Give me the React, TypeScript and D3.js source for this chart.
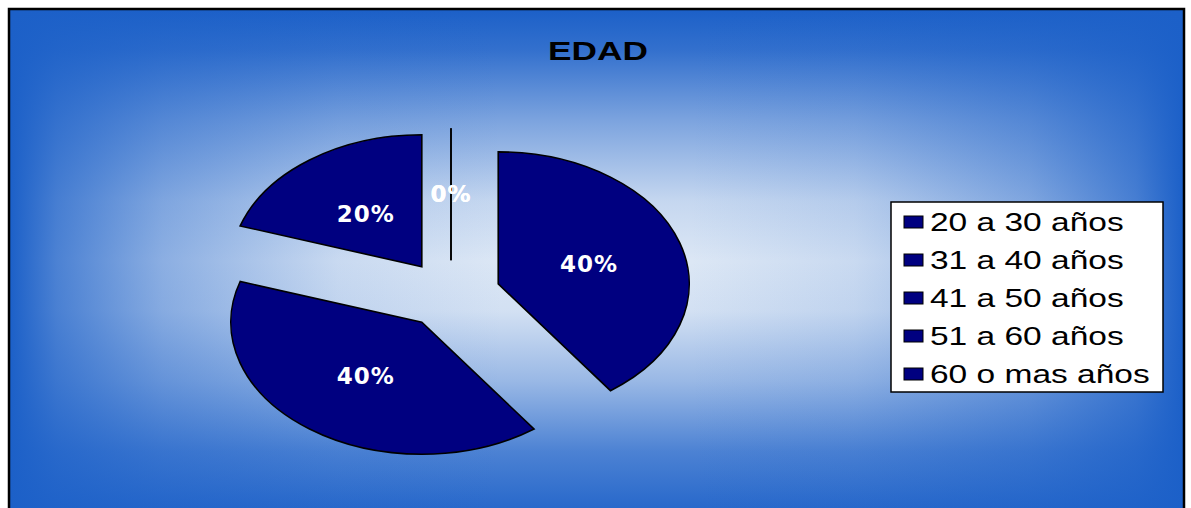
import React, { useEffect, useRef } from 'react';
import * as d3 from 'd3';

const chartTitle = 'EDAD';
const categories = [
  '20 a 30 años',
  '31 a 40 años',
  '41 a 50 años',
  '51 a 60 años',
  '60 o mas años',
];
const percentValues = [40, 40, 20, 0, 0];

export default function App() {
  const ref = useRef<SVGSVGElement>(null);

  useEffect(() => {
    const svg = d3.select(ref.current);
    svg.selectAll('*').remove();

    const width = 1191;
    const height = 508;
    const area = { left: 10, top: 10, right: 1183, bottom: height + 4 };
    const edgeBlue = '#1c60c8';
    const navy = '#000080';

    const defs = svg.append('defs');

    // horizontal fade: blue at left/right edges
    const hGrad = defs
      .append('linearGradient')
      .attr('id', 'bg-h')
      .attr('x1', 0)
      .attr('x2', 1)
      .attr('y1', 0)
      .attr('y2', 0);
    [
      [0, 1],
      [0.04, 0.75],
      [0.13, 0.42],
      [0.28, 0.1],
      [0.42, 0],
      [0.58, 0],
      [0.72, 0.1],
      [0.87, 0.42],
      [0.96, 0.75],
      [1, 1],
    ].forEach(([o, a]) =>
      hGrad
        .append('stop')
        .attr('offset', o)
        .attr('stop-color', edgeBlue)
        .attr('stop-opacity', a)
    );

    // vertical fade: blue at top/bottom edges
    const vGrad = defs
      .append('linearGradient')
      .attr('id', 'bg-v')
      .attr('x1', 0)
      .attr('x2', 0)
      .attr('y1', 0)
      .attr('y2', 1);
    [
      [0, 1],
      [0.08, 0.88],
      [0.22, 0.5],
      [0.38, 0.12],
      [0.5, 0],
      [0.6, 0.05],
      [0.74, 0.35],
      [0.88, 0.75],
      [1, 0.95],
    ].forEach(([o, a]) =>
      vGrad
        .append('stop')
        .attr('offset', o)
        .attr('stop-color', edgeBlue)
        .attr('stop-opacity', a)
    );

    const bw = area.right - area.left;
    const bh = area.bottom - area.top;

    svg
      .append('rect')
      .attr('x', area.left)
      .attr('y', area.top)
      .attr('width', bw)
      .attr('height', bh)
      .attr('fill', '#dce7f5');
    svg
      .append('rect')
      .attr('x', area.left)
      .attr('y', area.top)
      .attr('width', bw)
      .attr('height', bh)
      .attr('fill', 'url(#bg-v)');
    svg
      .append('rect')
      .attr('x', area.left)
      .attr('y', area.top)
      .attr('width', bw)
      .attr('height', bh)
      .attr('fill', 'url(#bg-h)');
    svg
      .append('rect')
      .attr('x', area.left - 1)
      .attr('y', area.top - 1)
      .attr('width', bw + 2)
      .attr('height', bh + 2)
      .attr('fill', 'none')
      .attr('stroke', '#000')
      .attr('stroke-width', 2.5);

    // title
    svg
      .append('text')
      .attr('transform', `translate(598, 60) scale(1.41, 1)`)
      .attr('text-anchor', 'middle')
      .attr('font-family', 'Liberation Sans, Arial, sans-serif')
      .attr('font-weight', 'bold')
      .attr('font-size', 25)
      .attr('fill', '#000')
      .text(chartTitle);

    // exploded pie, stretched horizontally like the original
    const cx = 451;
    const cy = 294.5;
    const R = 132;
    const sx = 191 / 132;
    const explode = 0.26 * R;
    const total = d3.sum(percentValues);

    const pie = d3
      .pie<number>()
      .sort(null)
      .value((d) => d);
    const arcs = pie(percentValues);
    const arc = d3
      .arc<d3.PieArcDatum<number>>()
      .innerRadius(0)
      .outerRadius(R);
    const midAngle = (d: d3.PieArcDatum<number>) =>
      (d.startAngle + d.endAngle) / 2;

    const pieGroup = svg
      .append('g')
      .attr('transform', `translate(${cx}, ${cy}) scale(${sx}, 1)`);

    pieGroup
      .selectAll('path')
      .data(arcs)
      .enter()
      .append('path')
      .attr('transform', (d) => {
        const a = midAngle(d);
        return `translate(${Math.sin(a) * explode}, ${-Math.cos(a) * explode})`;
      })
      .attr('d', arc)
      .attr('fill', navy)
      .attr('stroke', '#000')
      .attr('stroke-width', 1.6)
      .attr('vector-effect', 'non-scaling-stroke');

    const pct = d3.format('.0%');
    svg
      .selectAll('text.slice-label')
      .data(arcs)
      .enter()
      .append('text')
      .attr('class', 'slice-label')
      .attr('x', (d) => cx + sx * Math.sin(midAngle(d)) * (explode + 0.5 * R))
      .attr('y', (d) => cy - Math.cos(midAngle(d)) * (explode + 0.5 * R))
      .attr('dy', '0.36em')
      .attr('text-anchor', 'middle')
      .attr('font-family', 'DejaVu Sans, Verdana, sans-serif')
      .attr('font-weight', 'bold')
      .attr('font-size', 23)
      .attr('letter-spacing', 1)
      .attr('fill', '#fff')
      .text((d) => pct(d.value / total));

    // legend
    const legend = svg.append('g').attr('transform', 'translate(891, 202)');
    legend
      .append('rect')
      .attr('width', 272)
      .attr('height', 190)
      .attr('fill', '#fff')
      .attr('stroke', '#000')
      .attr('stroke-width', 1.5);

    const rowY = d3
      .scalePoint<string>()
      .domain(categories)
      .range([20, 172]);

    const rows = legend
      .selectAll('g.row')
      .data(categories)
      .enter()
      .append('g')
      .attr('class', 'row')
      .attr('transform', (d) => `translate(0, ${rowY(d)})`);

    rows
      .append('rect')
      .attr('x', 13)
      .attr('y', -6)
      .attr('width', 19)
      .attr('height', 12)
      .attr('fill', navy)
      .attr('stroke', '#000')
      .attr('stroke-width', 1);

    rows
      .append('text')
      .attr('transform', 'translate(39, 9) scale(1.34, 1)')
      .attr('font-family', 'Liberation Sans, Arial, sans-serif')
      .attr('font-size', 25)
      .attr('fill', '#000')
      .text((d) => d);
  }, []);

  return (
    <svg
      ref={ref}
      width={1191}
      height={508}
      style={{ position: 'absolute', left: 0, top: 0 }}
    />
  );
}
